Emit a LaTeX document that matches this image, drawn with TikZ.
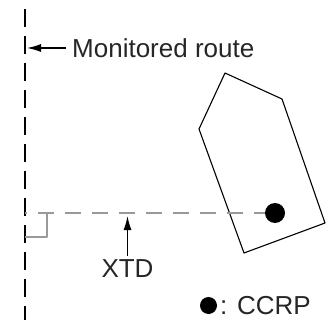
\documentclass[tikz,border=0pt]{standalone}
\usepackage{fontspec}
\setmainfont{Liberation Sans}
\usetikzlibrary{arrows.meta}

\begin{document}
\begin{tikzpicture}[x=1pt,y=-1pt,>=Latex,line join=round]
  \tikzset{
    route/.style={line width=1.6pt,dash pattern=on 18pt off 9pt},
    xtdline/.style={line width=1.3pt,black!40,dash pattern=on 16pt off 11pt,dash phase=14pt},
    rightangle/.style={line width=1.3pt,black!40},
    pointer/.style={-{Latex[length=14pt,width=8pt]},line width=1.3pt},
    txt/.style={inner sep=0pt,text=black!85,font=\fontsize{26}{31}\selectfont},
    vessel/.style={line width=1.1pt},
    dot/.style={circle,fill=black,inner sep=0pt,minimum size=#1}
  }
  \useasboundingbox (0,0) rectangle (326,320);

  % the monitored route, a dashed vertical
  \coordinate (rtop) at (25,9);
  \coordinate (rbot) at (25,320);
  \draw[route] (rtop) -- (rbot);
  \node[txt,anchor=west] (routetxt) at (72,48) {Monitored route};
  \coordinate (rhit) at (27,48);
  \draw[pointer] ([xshift=-6pt]routetxt.west) -- (rhit);

  % the vessel outline with its CCRP
  \draw[vessel] (225,73) -- (282,99) -- (325,223) -- (244,253) -- (199,129) -- cycle;
  \node[dot=20pt] (ccrp) at (275,213) {};

  % cross track distance to the route
  \coordinate (foot) at (25,213);
  \draw[xtdline] (foot) -- (ccrp);
  \draw[rightangle] (25,237) -- (47,237) -- (47,213);
  \node[txt] (xtd) at (127.5,269) {XTD};
  \coordinate (xhit) at (127.5,216);
  \draw[pointer] ([yshift=4pt]xtd.north) -- (xhit);

  % legend
  \node[dot=17pt] (keydot) at (208.5,305.5) {};
  \node[txt,anchor=west] (keytxt) at (220,305.5) {: CCRP};
\end{tikzpicture}
\end{document}
